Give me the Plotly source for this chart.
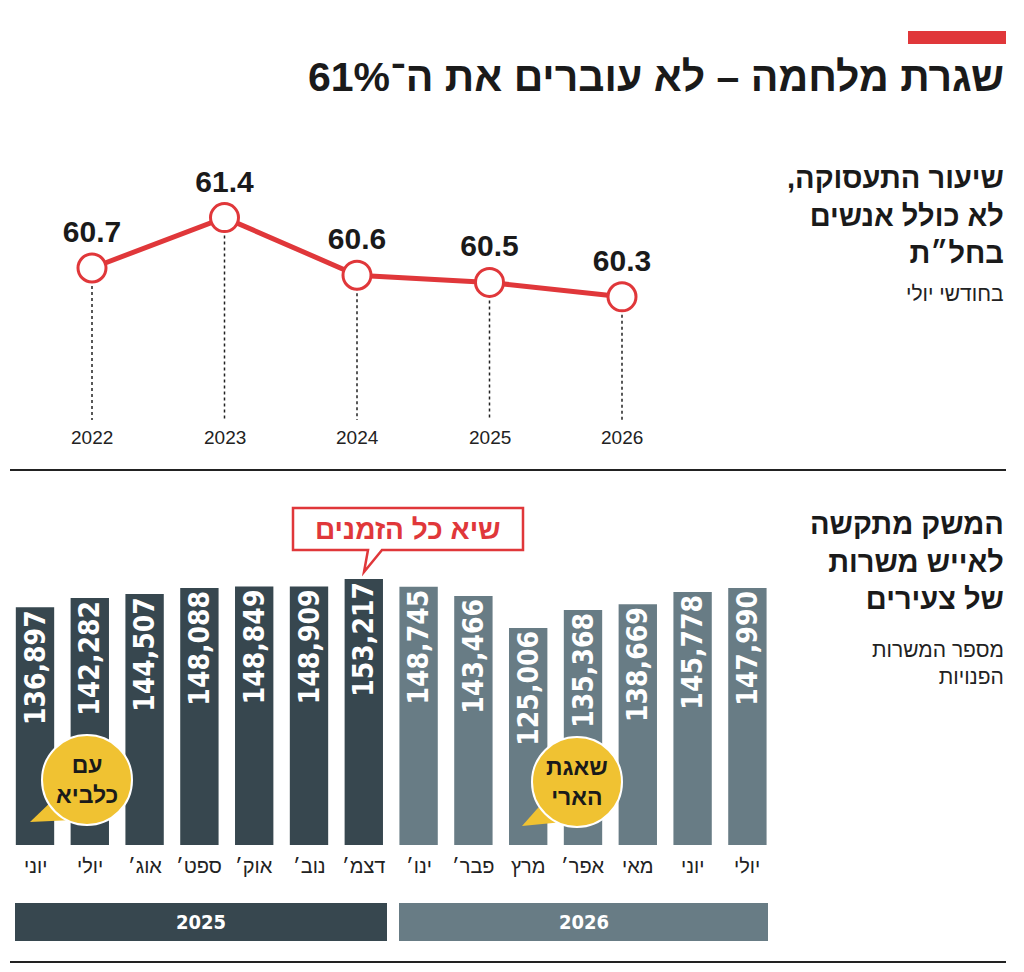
import plotly.graph_objects as go

# =========================
# DATA
# =========================

years = [2022, 2023, 2024, 2025, 2026]
employment = [60.7, 61.4, 60.6, 60.5, 60.3]

months = ["יוני", "יולי", "אוג׳", "ספט׳", "אוק׳", "נוב׳", "דצמ׳",
          "ינו׳", "פבר׳", "מרץ", "אפר׳", "מאי", "יוני", "יולי"]
vacancies = [136897, 142282, 144507, 148088, 148849, 148909, 153217,
             148745, 143466, 125006, 135368, 138669, 145778, 147990]
bar_year = ["2025"] * 7 + ["2026"] * 7

OFF = 8  # page margin around the plot
W, H = 1024 - 2 * OFF, 972 - 2 * OFF
RED = "#e0373a"
DARK = "#37474f"
LIGHT = "#687c85"
YELLOW = "#f0c232"
FONT = "Liberation Sans"
COND = "DejaVu Sans Condensed"


def rtl(s):
    return "<br>".join("\u202b" + line + "\u202c" for line in s.split("<br>"))


def px(xp):
    return (xp - OFF) / W


def py(yp):
    return 1 - (yp - OFF) / H


def note(x, y, text, size, color="#1a1a1a", bold=False, family=FONT,
         xanchor="center", yanchor="middle", xref="paper", align="center"):
    fig.add_annotation(x=x, y=y, xref=xref, yref="paper", text=text, showarrow=False,
                       xanchor=xanchor, yanchor=yanchor, align=align,
                       font=dict(family=family, size=size, color=color,
                                 weight="bold" if bold else "normal"))


fig = go.Figure()

# =========================
# LINE CHART (top)
# =========================

step = 132.5
x0 = 2022 - (92 - OFF) / step
x1 = x0 + W / step
ppu = 72.0
ytop = 60.7 + (268 - OFF) / ppu
ybot = ytop - H / ppu
drop_to = 60.7 - (420 - 268) / ppu

for yr, v in zip(years, employment):
    fig.add_trace(go.Scatter(
        x=[yr, yr], y=[v, drop_to], mode="lines",
        line=dict(color="#222", width=1.5, dash="dot"),
        xaxis="x", yaxis="y", showlegend=False, hoverinfo="skip"))

fig.add_trace(go.Scatter(
    x=years, y=employment, mode="lines+markers+text",
    line=dict(color=RED, width=5),
    marker=dict(size=28, color="white", line=dict(color=RED, width=3)),
    text=[f"{v:.1f}" for v in employment], textposition="top center",
    textfont=dict(family=FONT, size=30, color="#1a1a1a", weight="bold"),
    xaxis="x", yaxis="y", showlegend=False, hoverinfo="skip"))

# =========================
# BAR CHART (bottom)
# =========================

bstep = 54.8
bx0 = -(35 - OFF) / bstep
bx1 = bx0 + W / bstep
bscale = 266 / 153217
by_top = (845 - OFF) / bscale
by_bot = by_top - H / bscale

idx = list(range(len(vacancies)))
fig.add_trace(go.Bar(
    x=idx, y=vacancies, width=0.7,
    marker=dict(color=[DARK if b == "2025" else LIGHT for b in bar_year], line=dict(width=0)),
    text=[f"{v:,}" for v in vacancies], textposition="inside", textangle=-90,
    insidetextanchor="end", constraintext="none",
    textfont=dict(family=COND, size=28, color="white", weight="bold"),
    xaxis="x2", yaxis="y2", showlegend=False, hoverinfo="skip"))

# year bands
for label, a, b, col in [("2025", 15, 387, DARK), ("2026", 399, 768, LIGHT)]:
    fig.add_shape(type="rect", xref="paper", yref="paper",
                  x0=px(a), x1=px(b), y0=py(941), y1=py(903),
                  fillcolor=col, line=dict(width=0), layer="below")

# record callout
fig.add_shape(type="path", xref="paper", yref="paper",
              path=(f"M {px(293)} {py(508)} L {px(523)} {py(508)} L {px(523)} {py(550)} "
                    f"L {px(382)} {py(550)} L {px(364)} {py(572)} L {px(368)} {py(550)} "
                    f"L {px(293)} {py(550)} Z"),
              fillcolor="white", line=dict(color=RED, width=2.5))

# yellow bubbles
bubbles = [(87, 780, (30, 822), "עם<br>כלביא"), (577, 782, (522, 826), "שאגת<br>הארי")]
for cx, cy, tail, label in bubbles:
    r = 45
    fig.add_shape(type="path", xref="paper", yref="paper",
                  path=(f"M {px(cx - 32)} {py(cy + 18)} L {px(tail[0])} {py(tail[1])} "
                        f"L {px(cx - 14)} {py(cy + 40)} Z"),
                  fillcolor=YELLOW, line=dict(width=0))
    fig.add_shape(type="circle", xref="paper", yref="paper",
                  x0=px(cx - r), x1=px(cx + r), y0=py(cy + r), y1=py(cy - r),
                  fillcolor=YELLOW, line=dict(color="white", width=2))

fig.add_shape(type="rect", xref="paper", yref="paper",
              x0=px(908), x1=px(1006), y0=py(44), y1=py(31),
              fillcolor=RED, line=dict(width=0))
for yline in (470, 962):
    fig.add_shape(type="line", xref="paper", yref="paper",
                  x0=px(10), x1=px(1006), y0=py(yline), y1=py(yline),
                  line=dict(color="#222", width=2))

# =========================
# TEXT
# =========================

for yr in years:
    note(yr, py(437), str(yr), 19, "#222", xref="x")
for i, m in enumerate(months):
    note(i, py(866), rtl(m), 20, "#222", xref="x2")
for label, a, b in [("2025", 15, 387), ("2026", 399, 768)]:
    note(px((a + b) / 2), py(922), label, 20, "white", bold=True, family=COND)

note(px(408), py(529), rtl("שיא כל הזמנים"), 28, RED, bold=True)
for cx, cy, tail, label in bubbles:
    note(px(cx), py(cy), rtl(label), 23, bold=True)

note(px(1006), py(77), rtl("שגרת מלחמה – לא עוברים את ה־61%"), 41, bold=True, xanchor="right")
note(px(1006), py(160), rtl("שיעור התעסוקה,<br>לא כולל אנשים<br>בחל״ת"), 29, bold=True,
     xanchor="right", yanchor="top", align="right")
note(px(1006), py(294), rtl("בחודשי יולי"), 21, "#222", xanchor="right")
note(px(1006), py(506), rtl("המשק מתקשה<br>לאייש משרות<br>של צעירים"), 29, bold=True,
     xanchor="right", yanchor="top", align="right")
note(px(1006), py(636), rtl("מספר המשרות<br>הפנויות"), 21, "#222",
     xanchor="right", yanchor="top", align="right")

# =========================
# AXES & LAYOUT
# =========================

hidden = dict(visible=False, showgrid=False, zeroline=False, fixedrange=True, domain=[0, 1])
fig.update_layout(
    xaxis=dict(range=[x0, x1], **hidden),
    yaxis=dict(range=[ybot, ytop], **hidden),
    xaxis2=dict(range=[bx0, bx1], anchor="y2", overlaying="x", **hidden),
    yaxis2=dict(range=[by_bot, by_top], anchor="x2", overlaying="y", **hidden),
    width=W, height=H,
    margin=dict(l=0, r=0, t=0, b=0),
    paper_bgcolor="white", plot_bgcolor="white",
    font=dict(family=FONT),
)

fig.write_html("out.html")
